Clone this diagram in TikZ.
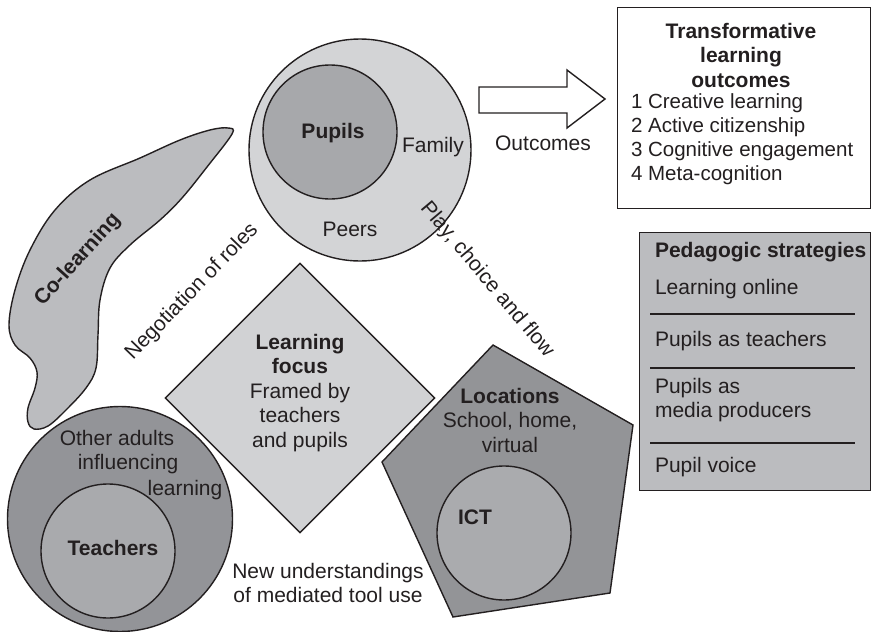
\documentclass[tikz,border=0pt]{standalone}
\usepackage{fontspec}
\setmainfont{Liberation Sans}
\usetikzlibrary{shapes.geometric}

\definecolor{inkgray}{RGB}{35,31,32}
\definecolor{pupilsout}{RGB}{211,212,214}
\definecolor{pupilsin}{RGB}{167,168,171}
\definecolor{colearn}{RGB}{187,188,191}
\definecolor{focusgray}{RGB}{209,210,212}
\definecolor{teachout}{RGB}{147,148,152}
\definecolor{teachin}{RGB}{169,170,173}
\definecolor{locgray}{RGB}{147,148,151}
\definecolor{ictgray}{RGB}{170,171,174}
\definecolor{pedgray}{RGB}{187,188,191}

\begin{document}
\begin{tikzpicture}[x=1pt,y=-1pt,line width=1.4pt,draw=inkgray,
      every node/.style={font=\fontsize{21}{24.5}\selectfont,text=inkgray},
      main node/.style={font=\fontsize{21}{24.5}\selectfont\bfseries},
      ring/.style={circle,draw=inkgray,inner sep=0pt}]
    \useasboundingbox (0,0) rectangle (871,632);

    % pupils
    \node[ring,fill=pupilsout,minimum size=222pt] (peerring) at (360,150) {};
    \node[ring,fill=pupilsin,minimum size=134pt] (pupilring) at (330,132) {};
    \node[main node] (pupils) at (333,133) {Pupils};
    \node (family) at (433,147) {Family};
    \node (peers) at (350,229) {Peers};

    % outcomes arrow and box
    \draw[fill=white] (479,87) -- (567,87) -- (567,70) -- (605,99)
        -- (567,128) -- (567,113) -- (479,113) -- cycle;
    \node (outcomes) at (543,143) {Outcomes};
    \node[draw=inkgray,fill=white,minimum width=253pt,minimum height=201pt,
        anchor=north west] (outbox) at (617,7) {};
    \node[main node,align=center] (outtitle) at (741,55)
        {Transformative\\learning\\outcomes};
    \node[align=left,anchor=west,font=\fontsize{20.5}{24}\selectfont] (outlist) at (627,139)
        {1 Creative learning\\2 Active citizenship\\3 Cognitive engagement\\4 Meta-cognition};

    % co-learning
    \draw[fill=colearn] plot[smooth cycle,tension=0.6] coordinates {
        (232,134) (228,128) (210,130) (180,140) (140,158) (90,180) (55,210)
        (30,250) (15,290) (9,325) (15,345) (30,358) (37,372) (35,388)
        (28,408) (28,422) (34,429) (48,426) (66,410) (86,388) (96,368)
        (98,335) (100,300) (110,268) (130,245) (160,220) (182,198)
        (207,167)};
    \node[main node,rotate=48] (colearning) at (78,260) {Co-learning};

    \node[rotate=46] (roles) at (192,292) {Negotiation of roles};
    \node[rotate=-50] (play) at (487,280) {Play, choice and flow};

    % learning focus
    \node[diamond,aspect=1,draw=inkgray,fill=focusgray,minimum size=270pt,
        inner sep=0pt] (focus) at (300,398) {};
    \node[align=center] (focustext) at (300,393)
        {\textbf{Learning}\\\textbf{focus}\\Framed by\\teachers\\and pupils};

    % teachers
    \node[ring,fill=teachout,minimum size=225pt] (adultring) at (120,519) {};
    \node[ring,fill=teachin,minimum size=134pt] (teachring) at (108,551) {};
    \node (other) at (117,438) {Other adults};
    \node (influencing) at (128,464) {influencing};
    \node (learning) at (185,490) {learning};
    \node[main node] (teachers) at (113,548) {Teachers};

    \node[align=center] (tooluse) at (328,583)
        {New understandings\\of mediated tool use};

    % locations
    \draw[fill=locgray] (493,345) -- (633,425) -- (610,593) -- (453,617)
        -- (382,462) -- cycle;
    \node[ring,fill=ictgray,minimum size=134pt] (ictring) at (504,533) {};
    \node[align=center] (locations) at (510,420)
        {\textbf{Locations}\\School, home,\\virtual};
    \node[main node] (ict) at (475,517) {ICT};

    % pedagogic strategies
    \node[draw=inkgray,fill=pedgray,minimum width=231pt,minimum height=258pt,
        anchor=north west] (pedbox) at (639,232) {};
    \node[main node,anchor=west] (pedtitle) at (651,252) {Pedagogic strategies};
    \node[anchor=west] (online) at (651,289) {Learning online};
    \node[anchor=west] (asteachers) at (651,341) {Pupils as teachers};
    \node[anchor=west,align=left] (producers) at (651,400)
        {Pupils as\\media producers};
    \node[anchor=west] (voice) at (651,467) {Pupil voice};
    \foreach \y in {314,368,443}
      \draw (650,\y) -- (855,\y);
\end{tikzpicture}
\end{document}
